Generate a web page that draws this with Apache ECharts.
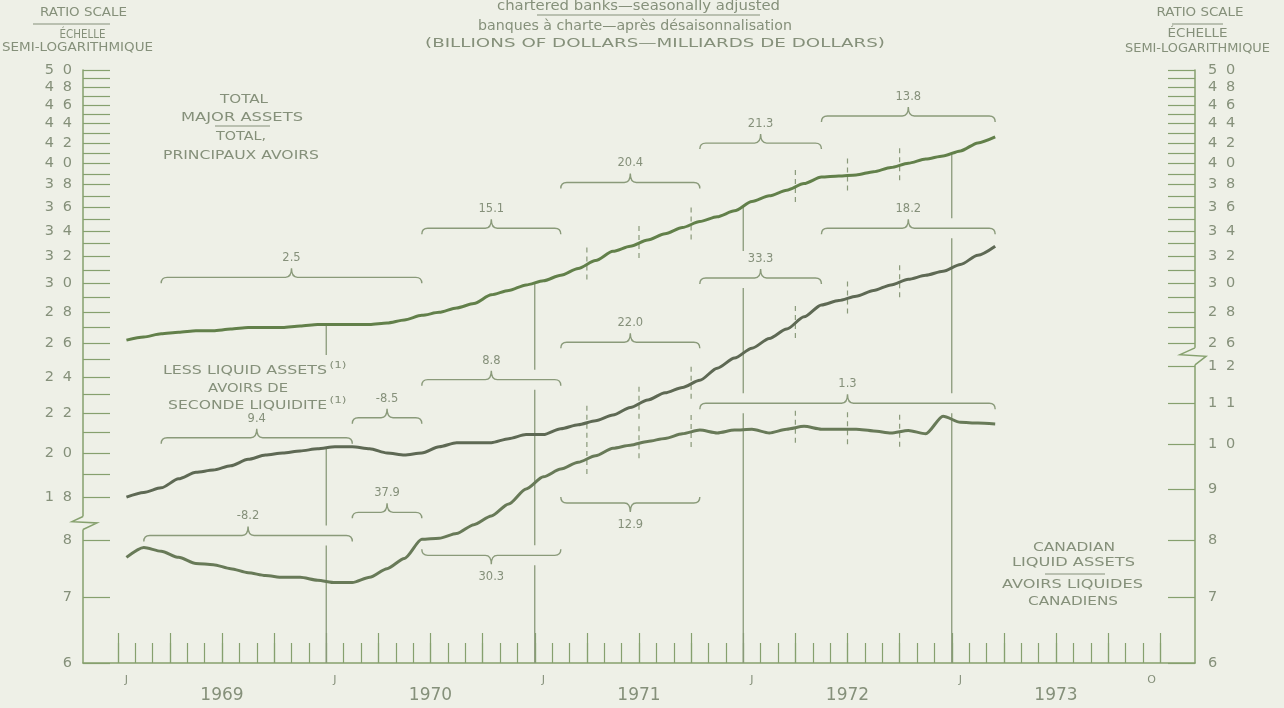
<!DOCTYPE html>
<html>
<head>
<meta charset="utf-8">
<script src="https://cdn.jsdelivr.net/npm/echarts@6/dist/echarts.min.js"></script>
<style>
html,body{margin:0;padding:0;background:#eef0e7;}
#chart{width:1284px;height:708px;}
</style>
</head>
<body>
<div id="chart"></div>
<script>
// ---------------- DATA ----------------
const months = [
  '1968-11','1968-12',
  '1969-01','1969-02','1969-03','1969-04','1969-05','1969-06','1969-07','1969-08','1969-09','1969-10','1969-11','1969-12',
  '1970-01','1970-02','1970-03','1970-04','1970-05','1970-06','1970-07','1970-08','1970-09','1970-10','1970-11','1970-12',
  '1971-01','1971-02','1971-03','1971-04','1971-05','1971-06','1971-07','1971-08','1971-09','1971-10','1971-11','1971-12',
  '1972-01','1972-02','1972-03','1972-04','1972-05','1972-06','1972-07','1972-08','1972-09','1972-10','1972-11','1972-12',
  '1973-01','1973-02','1973-03','1973-04','1973-05','1973-06','1973-07','1973-08','1973-09','1973-10','1973-11','1973-12',
  '1974-01','1974-02'
];
const firstObservation = '1969-01';   // monthly observations Jan 1969 - Mar 1973

// Total major assets (billions of dollars, upper ratio scale)
const totalMajorAssets = [
  26.2,26.4,26.6,26.7,26.8,26.8,26.9,27.0,27.0,27.0,27.1,27.2,
  27.2,27.2,27.2,27.3,27.5,27.8,28.0,28.3,28.6,29.2,29.5,29.9,
  30.2,30.6,31.1,31.7,32.4,32.8,33.3,33.8,34.3,34.8,35.2,35.7,
  36.5,37.0,37.5,38.1,38.7,38.8,38.9,39.2,39.6,40.0,40.4,40.7,
  41.2,42.0,42.6
];
// Less liquid assets (upper ratio scale)
const lessLiquidAssets = [
  18.0,18.2,18.4,18.8,19.1,19.2,19.4,19.7,19.9,20.0,20.1,20.2,
  20.3,20.3,20.2,20.0,19.9,20.0,20.3,20.5,20.5,20.5,20.7,20.9,
  20.9,21.2,21.4,21.6,21.9,22.3,22.7,23.1,23.4,23.8,24.5,25.1,
  25.7,26.3,26.9,27.7,28.5,28.8,29.1,29.5,29.9,30.3,30.6,30.9,
  31.4,32.1,32.8
];
// Canadian liquid assets (lower ratio scale)
const canadianLiquidAssets = [
  7.68,7.86,7.79,7.68,7.57,7.55,7.48,7.41,7.36,7.33,7.33,7.28,
  7.24,7.24,7.33,7.48,7.66,8.01,8.03,8.12,8.29,8.46,8.70,9.01,
  9.27,9.44,9.59,9.74,9.91,9.98,10.07,10.14,10.25,10.34,10.27,10.34,
  10.36,10.27,10.36,10.43,10.36,10.36,10.36,10.32,10.27,10.33,10.25,10.68,
  10.53,10.51,10.49
];

// Annual rates of change over periods: [series, from, to, label]
const growthPeriods = [
  ['total','1969-03','1970-06','2.5'],
  ['total','1970-06','1971-02','15.1'],
  ['total','1971-02','1971-10','20.4'],
  ['total','1971-10','1972-05','21.3'],
  ['total','1972-05','1973-03','13.8'],
  ['less','1969-03','1970-02','9.4'],
  ['less','1970-02','1970-06','-8.5'],
  ['less','1970-06','1971-02','8.8'],
  ['less','1971-02','1971-10','22.0'],
  ['less','1971-10','1972-05','33.3'],
  ['less','1972-05','1973-03','18.2'],
  ['canadian','1969-02','1970-02','-8.2'],
  ['canadian','1970-02','1970-06','37.9'],
  ['canadian','1970-06','1971-02','30.3'],
  ['canadian','1971-02','1971-10','12.9'],
  ['canadian','1971-10','1973-03','1.3']
];

// Axis ticks / labels
const leftUpperTicks  = [18,19,20,21,22,23,24,25,26,27,28,29,30,31,32,33,34,35,36,37,38,39,40,41,42,43,44,45,46,47,48,49,50];
const leftUpperLabels = [18,20,22,24,26,28,30,32,34,36,38,40,42,44,46,48,50];
const leftLowerTicks  = [6,7,8];
const rightUpperTicks  = [26,27,28,29,30,31,32,33,34,35,36,37,38,39,40,41,42,43,44,45,46,47,48,49,50];
const rightUpperLabels = [26,28,30,32,34,36,38,40,42,44,46,48,50];
const rightLowerTicks  = [6,7,8,9,10,11,12];
const monthLetters = [['1969-01','J'],['1970-01','J'],['1971-01','J'],['1972-01','J'],['1973-01','J'],['1973-12','O']];
const yearLabels = ['1969','1970','1971','1972','1973'];
const yearBoundaries = ['1970-01','1971-01','1972-01','1973-01'];
const quarterBoundaries = ['1971-04','1971-07','1971-10','1972-04','1972-07','1972-10'];
const tickFirstMonth = '1969-01', tickLastMonth = '1974-01';

// ---------------- LAYOUT / STYLE ----------------
const BG = '#eef0e7', TEXT = '#85907a', AXIS = '#86a06e', GUIDE = '#8a9a7a';
const FONT = '"DejaVu Sans", sans-serif';
const GRID = {left: 83, right: 89, top: 70, bottom: 45};
const PLOT_H = 708 - GRID.top - GRID.bottom;
const UP_K = 418, LO_K = 428;              // pixels per natural-log unit of the two ratio scales
const UP_MAX = Math.log(50), UP_MIN = UP_MAX - PLOT_H / UP_K;
const LO_MIN = Math.log(6),  LO_MAX = LO_MIN + PLOT_H / LO_K;

// bracket placement: gap (px) from the series extreme within the period
const bracketLayout = [
  {gap:38},{gap:47},{gap:39},{gap:34},{gap:21},
  {gap:9},{gap:29},{gap:49},{gap:38},{gap:27},{gap:18},
  {gap:12},{gap:27},{gap:16,side:'below'},{gap:34,side:'below'},{gap:13}
];
const lineGapBoxes = [{x1:158, x2:352, y1:355, y2:430}];

const textBlocks = [
  ['RATIO SCALE', 83.5, 13, 11.5, 87],
  ['ÉCHELLE', 82.5, 35, 11.5, 46],
  ['SEMI-LOGARITHMIQUE', 77.5, 48, 12, 151],
  ['RATIO SCALE', 1200, 13, 11.5, 87],
  ['ÉCHELLE', 1197.5, 34, 11.5, 60],
  ['SEMI-LOGARITHMIQUE', 1197.5, 49, 12, 145],
  ['chartered banks—seasonally adjusted', 638.5, 6, 14, 283],
  ['banques à charte—après désaisonnalisation', 635, 26, 14, 314],
  ['(BILLIONS OF DOLLARS—MILLIARDS DE DOLLARS)', 655, 44, 11.5, 460],
  ['TOTAL', 244, 100, 12.5, 48],
  ['MAJOR ASSETS', 242, 118, 12.5, 122],
  ['TOTAL,', 241, 137, 12.5, 50],
  ['PRINCIPAUX AVOIRS', 241, 156, 12.5, 156],
  ['LESS LIQUID ASSETS', 245, 371, 12.5, 164],
  ['(1)', 338, 366, 8.5, 17],
  ['AVOIRS DE', 248, 389, 12.5, 80],
  ['SECONDE LIQUIDITE', 247.5, 406, 12.5, 159],
  ['(1)', 338, 401, 8.5, 17],
  ['CANADIAN', 1074, 548, 12, 82],
  ['LIQUID ASSETS', 1073.5, 563, 12, 123],
  ['AVOIRS LIQUIDES', 1072.5, 585, 12, 141],
  ['CANADIENS', 1073, 602, 12, 90]
];
const rules = [[33,24,110,24],[1172,24,1223,24],[537,15,760,15],[215,126,270,126],[1045,574,1105,574]];

// ---------------- HELPERS ----------------
const seriesDefs = {
  total: {values: totalMajorAssets, axis: 'upper'},
  less: {values: lessLiquidAssets, axis: 'upper'},
  canadian: {values: canadianLiquidAssets, axis: 'lower'}
};
const obs0 = months.indexOf(firstObservation);
function valAt(key, idx) { return seriesDefs[key].values[idx - obs0]; }
function toUnits(key, v) {
  const w = Math.log(v);
  return seriesDefs[key].axis === 'upper' ? w
    : UP_MIN + (w - LO_MIN) * (UP_MAX - UP_MIN) / (LO_MAX - LO_MIN);
}
function lineData(key) {
  return months.map((m, i) => { const v = valAt(key, i); return v == null ? '-' : Math.log(v); });
}
function pxOf(api, key, idx) { return api.coord([idx, toUnits(key, valAt(key, idx))]); }
function xCenter(api, idx) { return api.coord([idx, UP_MIN])[0]; }
function boundaryX(api, idx) { return (xCenter(api, idx - 1) + xCenter(api, idx)) / 2; }
function boundaryY(api, key, idx) { return (pxOf(api, key, idx - 1)[1] + pxOf(api, key, idx)[1]) / 2; }

function bracketGeom(api, i) {
  const [key, from, to, label] = growthPeriods[i];
  const lay = bracketLayout[i];
  const i0 = months.indexOf(from), i1 = months.indexOf(to);
  let lo = Infinity, hi = -Infinity;
  for (let k = i0; k <= i1; k++) {
    const y = pxOf(api, key, k)[1];
    lo = Math.min(lo, y); hi = Math.max(hi, y);
  }
  const below = lay.side === 'below';
  return {i0, i1, x1: xCenter(api, i0), x2: xCenter(api, i1), y: below ? hi + lay.gap : lo - lay.gap, below, label};
}
function textStyle(text, size) {
  return {text, fill: TEXT, font: size + 'px ' + FONT, align: 'center', verticalAlign: 'middle',
          textAlign: 'center', textVerticalAlign: 'middle'};
}

function renderBracket(params, api) {
  const g = bracketGeom(api, params.dataIndex);
  const s = g.below ? -1 : 1, h = 6, t = 9, r = 6, y = g.y, xm = (g.x1 + g.x2) / 2;
  const d = `M${g.x1},${y + s * h} Q${g.x1},${y} ${g.x1 + r},${y} L${xm - r},${y} Q${xm},${y} ${xm},${y - s * t} ` +
            `Q${xm},${y} ${xm + r},${y} L${g.x2 - r},${y} Q${g.x2},${y} ${g.x2},${y + s * h}`;
  return {type: 'group', children: [
    {type: 'path', shape: {pathData: d}, style: {stroke: GUIDE, fill: 'none', lineWidth: 1.4}},
    {type: 'text', x: xm, y: g.below ? y + 22 : y - 19, style: textStyle(g.label, 11.5)}
  ]};
}

function seg(x, a, b) {
  return {type: 'line', shape: {x1: x, y1: a, x2: x, y2: b}, style: {stroke: GUIDE, lineWidth: 1.3}};
}
function renderYearLine(params, api) {
  const idx = months.indexOf(yearBoundaries[params.dataIndex]);
  const x = boundaryX(api, idx);
  const top = boundaryY(api, 'total', idx);
  const bottom = params.coordSys.y + params.coordSys.height;
  const gaps = [];
  growthPeriods.forEach((_, i) => {
    const g = bracketGeom(api, i);
    if (g.i0 <= idx - 0.5 && idx - 0.5 <= g.i1 && g.y > top && g.y < bottom) {
      let a = g.y - 10, b = g.y + 10;
      if (Math.abs(x - (g.x1 + g.x2) / 2) < 22) { if (g.below) b = g.y + 30; else a = g.y - 27; }
      gaps.push([a, b]);
    }
  });
  lineGapBoxes.forEach(bx => { if (x >= bx.x1 && x <= bx.x2) gaps.push([bx.y1, bx.y2]); });
  gaps.sort((p, q) => p[0] - q[0]);
  const children = [];
  let cur = top;
  gaps.forEach(([a, b]) => { if (a > cur) children.push(seg(x, cur, a)); cur = Math.max(cur, b); });
  if (cur < bottom) children.push(seg(x, cur, bottom));
  return {type: 'group', children};
}
function renderQuarterLine(params, api) {
  const idx = months.indexOf(quarterBoundaries[params.dataIndex]);
  const x = boundaryX(api, idx);
  return {type: 'group', children: ['total', 'less', 'canadian'].map(key => {
    const y = boundaryY(api, key, idx);
    return {type: 'line', shape: {x1: x, y1: y - 17, x2: x, y2: y + 17},
            style: {stroke: GUIDE, lineWidth: 1.2, lineDash: [5, 4]}};
  })};
}

function spacedDigits(n) {
  const s = String(n);
  return s.split('').map((c, i) => i < s.length - 1 ? `{d|${c}}` : `{e|${c}}`).join('');
}
const digitRich = {
  d: {width: 18, align: 'left', fontSize: 14.5, fontFamily: FONT, color: TEXT},
  e: {align: 'left', fontSize: 14.5, fontFamily: FONT, color: TEXT}
};
function yAxisDef(position, min, max, ticks, labels, showLine) {
  return {
    type: 'value', position, min, max, splitLine: {show: false},
    axisLine: {show: showLine, onZero: false, lineStyle: {color: AXIS, width: 1.5}},
    axisTick: {show: true, inside: true, length: 27, customValues: ticks.map(Math.log),
               lineStyle: {color: AXIS, width: 1.2}},
    axisLabel: {show: true, customValues: labels.map(Math.log), margin: position === 'left' ? 11 : 13,
                formatter: v => spacedDigits(Math.round(Math.exp(v))), rich: digitRich}
  };
}

const i1 = months.indexOf(tickFirstMonth), i2 = months.indexOf(tickLastMonth);
const monthTickPos = months.map((m, i) => i).filter(i => i >= i1 && i <= i2);
const quarterTickPos = monthTickPos.filter(i => ['01','04','07','10'].includes(months[i].slice(5)));
const letterPos = monthLetters.map(([m]) => months.indexOf(m) + 0.5);
const yearPos = yearLabels.map(y => months.indexOf(y + '-07'));

const option = {
  backgroundColor: BG,
  animation: false,
  grid: Object.assign({containLabel: false, outerBoundsMode: 'none'}, GRID),
  xAxis: [
    {type: 'category', data: months, boundaryGap: true, show: false},
    {type: 'value', min: 0, max: months.length, position: 'bottom', splitLine: {show: false},
     axisLine: {show: true, onZero: false, lineStyle: {color: AXIS, width: 1.5}},
     axisTick: {show: true, inside: true, length: 20, customValues: monthTickPos, lineStyle: {color: AXIS, width: 1.2}},
     axisLabel: {show: true, customValues: letterPos, margin: 12, color: TEXT, fontSize: 11, fontFamily: FONT,
                 formatter: v => { const k = letterPos.findIndex(p => Math.abs(p - v) < 1e-6); return k >= 0 ? monthLetters[k][1] : ''; }}},
    {type: 'value', min: 0, max: months.length, position: 'bottom', splitLine: {show: false},
     axisLine: {show: false, onZero: false},
     axisTick: {show: true, inside: true, length: 30, customValues: quarterTickPos, lineStyle: {color: AXIS, width: 1.2}},
     axisLabel: {show: true, customValues: yearPos, margin: 24, color: TEXT, fontSize: 17, fontFamily: FONT,
                 formatter: v => { const k = yearPos.findIndex(p => Math.abs(p - v) < 1e-6); return k >= 0 ? yearLabels[k] : ''; }}}
  ],
  yAxis: [
    yAxisDef('left', UP_MIN, UP_MAX, leftUpperTicks, leftUpperLabels, false),
    yAxisDef('left', LO_MIN, LO_MAX, leftLowerTicks, leftLowerTicks, true),
    yAxisDef('right', UP_MIN, UP_MAX, rightUpperTicks, rightUpperLabels, false),
    yAxisDef('right', LO_MIN, LO_MAX, rightLowerTicks, rightLowerTicks, true)
  ],
  series: [
    {type: 'custom', name: 'year lines', xAxisIndex: 0, yAxisIndex: 0, clip: false, silent: true, z: 2,
     data: yearBoundaries.map(m => [months.indexOf(m), (UP_MIN + UP_MAX) / 2]), renderItem: renderYearLine},
    {type: 'custom', name: 'quarter lines', xAxisIndex: 0, yAxisIndex: 0, clip: false, silent: true, z: 2,
     data: quarterBoundaries.map(m => [months.indexOf(m), (UP_MIN + UP_MAX) / 2]), renderItem: renderQuarterLine},
    {type: 'custom', name: 'rates', xAxisIndex: 0, yAxisIndex: 0, clip: false, silent: true, z: 3,
     data: growthPeriods.map(g => [months.indexOf(g[1]), (UP_MIN + UP_MAX) / 2]), renderItem: renderBracket},
    {type: 'line', name: 'Total major assets', xAxisIndex: 0, yAxisIndex: 0, data: lineData('total'),
     symbol: 'none', smooth: 0.25, smoothMonotone: 'x', lineStyle: {color: '#62804a', width: 3}, z: 5},
    {type: 'line', name: 'Less liquid assets', xAxisIndex: 0, yAxisIndex: 0, data: lineData('less'),
     symbol: 'none', smooth: 0.25, smoothMonotone: 'x', lineStyle: {color: '#5e6954', width: 3}, z: 5},
    {type: 'line', name: 'Canadian liquid assets', xAxisIndex: 0, yAxisIndex: 1, data: lineData('canadian'),
     symbol: 'none', smooth: 0.25, smoothMonotone: 'x', lineStyle: {color: '#687a58', width: 3}, z: 5}
  ]
};

const chart = echarts.init(document.getElementById('chart'), null, {renderer: 'canvas'});
chart.setOption(option);

// ---------------- DECORATION: texts, rules, axis breaks ----------------
const mctx = document.createElement('canvas').getContext('2d');
function fitScale(text, size, w) {
  mctx.font = size + 'px ' + FONT;
  const m = mctx.measureText(text).width || w;
  return Math.max(0.7, Math.min(1.8, w / m));
}
const graphics = [];
textBlocks.forEach(([text, cx, cy, size, w]) => {
  graphics.push({type: 'text', x: cx, y: cy, scaleX: fitScale(text, size, w), silent: true, z: 100,
                 style: textStyle(text, size)});
});
rules.forEach(([x1, y1, x2, y2]) => {
  graphics.push({type: 'line', shape: {x1, y1, x2, y2}, silent: true, z: 100, style: {stroke: TEXT, lineWidth: 1}});
});
const xL = chart.convertToPixel({xAxisIndex: 1}, 0);
const xR = chart.convertToPixel({xAxisIndex: 1}, months.length);
const yL = (chart.convertToPixel({yAxisIndex: 0}, Math.log(leftUpperTicks[0])) +
            chart.convertToPixel({yAxisIndex: 1}, Math.log(leftLowerTicks[leftLowerTicks.length - 1]))) / 2 - 2;
const yR = (chart.convertToPixel({yAxisIndex: 2}, Math.log(rightUpperTicks[0])) +
            chart.convertToPixel({yAxisIndex: 3}, Math.log(rightLowerTicks[rightLowerTicks.length - 1]))) / 2 - 7;
function zigzag(x, y0, dl, dr, hgt) {
  graphics.push({type: 'rect', shape: {x: x - 2, y: y0, width: 4, height: hgt}, silent: true, z: 100, style: {fill: BG}});
  graphics.push({type: 'polyline', silent: true, z: 101,
                 shape: {points: [[x, y0], [x - dl, y0 + hgt * 0.4], [x + dr, y0 + hgt * 0.5], [x, y0 + hgt]]},
                 style: {stroke: AXIS, lineWidth: 1.5, fill: 'none'}});
}
zigzag(xL, yL, 11, 14, 13);
zigzag(xR, yR, 15, 11, 17);
chart.setOption({graphic: {elements: graphics}});
</script>
</body>
</html>
